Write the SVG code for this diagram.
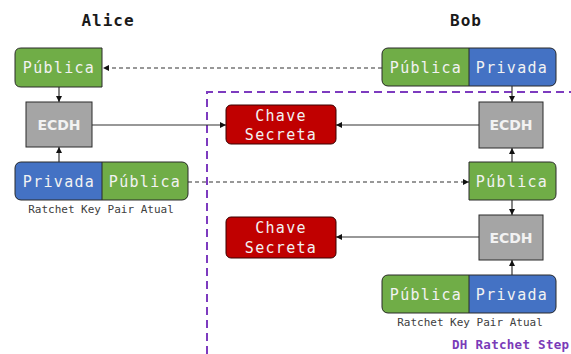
<svg xmlns="http://www.w3.org/2000/svg" width="571" height="354" viewBox="0 0 571 354">
  <style>
    .title { font-family: "DejaVu Sans Mono", monospace; font-weight: bold; font-size: 16px; letter-spacing: 1px; fill: #1a1a1a; text-anchor: middle; }
    .lbl { font-family: "DejaVu Sans Mono", monospace; font-size: 15px; letter-spacing: 1.3px; fill: #f2f2f2; text-anchor: middle; }
    .ecdh { font-family: "DejaVu Sans", sans-serif; font-weight: bold; font-size: 14px; fill: #f2f2f2; text-anchor: middle; }
    .cap { font-family: "DejaVu Sans Mono", monospace; font-size: 11px; fill: #404040; text-anchor: middle; }
    .step { font-family: "DejaVu Sans Mono", monospace; font-weight: bold; font-size: 12.5px; fill: #7a3bb8; letter-spacing: 0.3px; }
    .green { fill: #70ad47; }
    .blue { fill: #4472c4; }
    .box { stroke: #2b2b2b; stroke-width: 1; }
    .gray { fill: #a5a5a5; stroke: #2b2b2b; stroke-width: 1; }
    .red { fill: #c00000; stroke: #3a0000; stroke-width: 1; }
    .edge { stroke: #333; stroke-width: 1.2; fill: none; marker-end: url(#arrow); }
    .dash { stroke-dasharray: 4 3; }
    .region { stroke: #7d3bbf; stroke-width: 2; stroke-dasharray: 8 5; fill: none; }
  </style>
  <defs>
    <marker id="arrow" viewBox="0 0 10 10" refX="10" refY="5" markerWidth="6" markerHeight="6" markerUnits="userSpaceOnUse" orient="auto">
      <path d="M0,0 L10,5 L0,10 z" fill="#111"/>
    </marker>
  </defs>

  <!-- DH ratchet step region -->
  <path class="region" d="M207,354 L207,92 L571,92"/>
  <text class="step" x="452" y="349">DH Ratchet Step</text>

  <!-- headings -->
  <text class="title" x="108" y="26">Alice</text>
  <text class="title" x="466" y="26">Bob</text>

  <!-- connectors -->
  <g id="connectors">
    <line class="edge dash" x1="382" y1="68" x2="103" y2="68"/>
    <line class="edge" x1="59" y1="87" x2="59" y2="102"/>
    <line class="edge" x1="59" y1="162" x2="59" y2="147"/>
    <line class="edge" x1="92" y1="125" x2="226" y2="125"/>
    <line class="edge" x1="479" y1="125" x2="336" y2="125"/>
    <line class="edge" x1="512" y1="86" x2="512" y2="102"/>
    <line class="edge" x1="512" y1="162" x2="512" y2="148"/>
    <line class="edge dash" x1="188" y1="182" x2="469" y2="182"/>
    <line class="edge" x1="512" y1="200" x2="512" y2="215"/>
    <line class="edge" x1="479" y1="237" x2="336" y2="237"/>
    <line class="edge" x1="512" y1="275" x2="512" y2="260"/>
  </g>

  <!-- Alice public key -->
  <g id="alice-publica">
    <path class="green box" d="M102,48 L102,87 L21,87 Q15,87 15,81 L15,54 Q15,48 21,48 Z"/>
    <text class="lbl" x="59" y="73">Pública</text>
  </g>

  <!-- Alice ECDH -->
  <g id="alice-ecdh">
    <rect class="gray" x="26" y="102" width="66" height="45"/>
    <text class="ecdh" x="59" y="130">ECDH</text>
  </g>

  <!-- Alice current ratchet key pair -->
  <g id="alice-pair">
    <path class="blue" d="M102,162 L21,162 Q15,162 15,168 L15,194 Q15,200 21,200 L102,200 Z"/>
    <path class="green" d="M102,162 L182,162 Q188,162 188,168 L188,194 Q188,200 182,200 L102,200 Z"/>
    <rect x="15" y="162" width="173" height="38" rx="6" fill="none" class="box"/>
    <line x1="102" y1="162" x2="102" y2="200" stroke="#2b2b2b"/>
    <text class="lbl" x="59" y="187">Privada</text>
    <text class="lbl" x="145" y="187">Pública</text>
    <text class="cap" x="101" y="213">Ratchet Key Pair Atual</text>
  </g>

  <!-- shared secret 1 -->
  <g id="chave-1">
    <rect class="red" x="226" y="105" width="110" height="39" rx="5"/>
    <text class="lbl" x="281" y="121">Chave</text>
    <text class="lbl" x="281" y="140">Secreta</text>
  </g>

  <!-- Bob previous key pair -->
  <g id="bob-pair-old">
    <path class="green" d="M469,48 L388,48 Q382,48 382,54 L382,80 Q382,86 388,86 L469,86 Z"/>
    <path class="blue" d="M469,48 L550,48 Q556,48 556,54 L556,80 Q556,86 550,86 L469,86 Z"/>
    <rect x="382" y="48" width="174" height="38" rx="6" fill="none" class="box"/>
    <line x1="469" y1="48" x2="469" y2="86" stroke="#2b2b2b"/>
    <text class="lbl" x="426" y="73">Pública</text>
    <text class="lbl" x="512" y="73">Privada</text>
  </g>

  <!-- Bob ECDH 1 -->
  <g id="bob-ecdh-1">
    <rect class="gray" x="479" y="102" width="64" height="46"/>
    <text class="ecdh" x="511" y="130">ECDH</text>
  </g>

  <!-- Bob received public key -->
  <g id="bob-publica">
    <path class="green box" d="M469,162 L550,162 Q556,162 556,168 L556,194 Q556,200 550,200 L469,200 Z"/>
    <text class="lbl" x="512" y="187">Pública</text>
  </g>

  <!-- Bob ECDH 2 -->
  <g id="bob-ecdh-2">
    <rect class="gray" x="479" y="215" width="64" height="45"/>
    <text class="ecdh" x="511" y="243">ECDH</text>
  </g>

  <!-- shared secret 2 -->
  <g id="chave-2">
    <rect class="red" x="226" y="217" width="110" height="41" rx="5"/>
    <text class="lbl" x="281" y="233">Chave</text>
    <text class="lbl" x="281" y="253">Secreta</text>
  </g>

  <!-- Bob current ratchet key pair -->
  <g id="bob-pair-new">
    <path class="green" d="M469,275 L388,275 Q382,275 382,281 L382,307 Q382,313 388,313 L469,313 Z"/>
    <path class="blue" d="M469,275 L550,275 Q556,275 556,281 L556,307 Q556,313 550,313 L469,313 Z"/>
    <rect x="382" y="275" width="174" height="38" rx="6" fill="none" class="box"/>
    <line x1="469" y1="275" x2="469" y2="313" stroke="#2b2b2b"/>
    <text class="lbl" x="426" y="300">Pública</text>
    <text class="lbl" x="512" y="300">Privada</text>
    <text class="cap" x="470" y="326">Ratchet Key Pair Atual</text>
  </g>
</svg>
